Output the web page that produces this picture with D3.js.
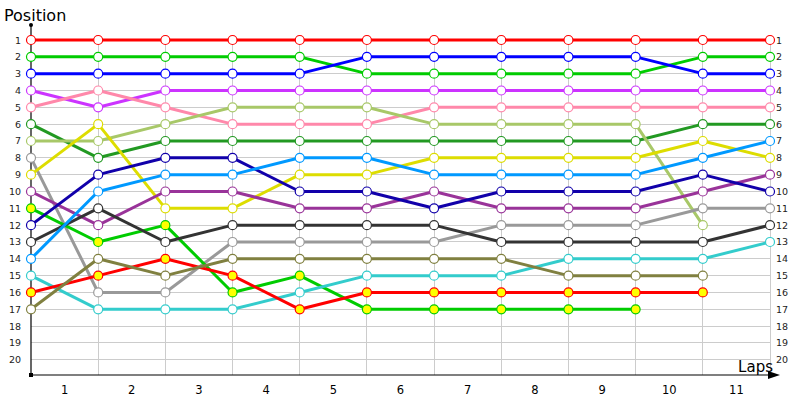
<!DOCTYPE html>
<html>
<head>
<meta charset="utf-8">
<script src="https://cdn.jsdelivr.net/npm/d3@7"></script>
<style>
  body { margin: 0; background: #fff; }
  svg { display: block; font-family: "DejaVu Sans", Verdana, sans-serif; }
</style>
</head>
<body>
<svg id="chart" width="800" height="400"></svg>
<script>
// lap numbers (0 = start) and the position ticks
const laps = [0, 1, 2, 3, 4, 5, 6, 7, 8, 9, 10, 11]
const lapLabels = ["1", "2", "3", "4", "5", "6", "7", "8", "9", "10", "11"]
const positions = d3.range(1, 21)

// one entry per car: line colour, marker fill, position at each lap
const carColors = ["#ff0000", "#00cc00", "#0000ff", "#cc33ff", "#ff88aa", "#229922", "#a8c868", "#999999",
  "#dddd00", "#993399", "#00cc00", "#1100aa", "#333333", "#0099ff", "#33cccc", "#ff0000", "#808040"]
const carFills = ["#fff", "#fff", "#fff", "#fff", "#fff", "#fff", "#fff", "#fff",
  "#fff", "#fff", "#ffff00", "#fff", "#fff", "#fff", "#fff", "#ffff00", "#fff"]
const carPositions = [
  [1, 1, 1, 1, 1, 1, 1, 1, 1, 1, 1, 1],
  [2, 2, 2, 2, 2, 3, 3, 3, 3, 3, 2, 2],
  [3, 3, 3, 3, 3, 2, 2, 2, 2, 2, 3, 3],
  [4, 5, 4, 4, 4, 4, 4, 4, 4, 4, 4, 4],
  [5, 4, 5, 6, 6, 6, 5, 5, 5, 5, 5, 5],
  [6, 8, 7, 7, 7, 7, 7, 7, 7, 7, 6, 6],
  [7, 7, 6, 5, 5, 5, 6, 6, 6, 6, 12],
  [8, 16, 16, 13, 13, 13, 13, 12, 12, 12, 11, 11],
  [9, 6, 11, 11, 9, 9, 8, 8, 8, 8, 7, 8],
  [10, 12, 10, 10, 11, 11, 10, 11, 11, 11, 10, 9],
  [11, 13, 12, 16, 15, 17, 17, 17, 17, 17],
  [12, 9, 8, 8, 10, 10, 11, 10, 10, 10, 9, 10],
  [13, 11, 13, 12, 12, 12, 12, 13, 13, 13, 13, 12],
  [14, 10, 9, 9, 8, 8, 9, 9, 9, 9, 8, 7],
  [15, 17, 17, 17, 16, 15, 15, 15, 14, 14, 14, 13],
  [16, 15, 14, 15, 17, 16, 16, 16, 16, 16, 16],
  [17, 14, 15, 14, 14, 14, 14, 14, 15, 15, 15]
]

const svg = d3.select("#chart")

const x = d3.scaleLinear().domain([0, 11]).range([31, 770])
const y = d3.scaleLinear().domain([1, 20]).range([40, 359.8])

// grid
svg.append("g").selectAll("line")
  .data(positions)
  .join("line")
    .attr("x1", x(0)).attr("x2", x(11))
    .attr("y1", d => y(d)).attr("y2", d => y(d))
    .attr("stroke", "#cccccc").attr("stroke-width", 1)
    .attr("shape-rendering", "crispEdges")

svg.append("g").selectAll("line")
  .data(laps.slice(1))
  .join("line")
    .attr("x1", d => x(d)).attr("x2", d => x(d))
    .attr("y1", 35).attr("y2", 375)
    .attr("stroke", "#cccccc").attr("stroke-width", 1)
    .attr("shape-rendering", "crispEdges")

// axes
svg.append("line")
  .attr("x1", x(0)).attr("x2", x(0)).attr("y1", 25).attr("y2", 375)
  .attr("stroke", "#000").attr("stroke-width", 1.2)
svg.append("circle").attr("cx", x(0)).attr("cy", 25).attr("r", 2).attr("fill", "#000")
svg.append("rect").attr("x", x(0) - 2).attr("y", 373).attr("width", 4).attr("height", 4).attr("fill", "#000")
svg.append("line")
  .attr("x1", x(0)).attr("x2", 772).attr("y1", 375).attr("y2", 375)
  .attr("stroke", "#000").attr("stroke-width", 1.2)
svg.append("path")
  .attr("d", "M768,371L780,375L768,379Z")
  .attr("fill", "#000")

// position labels left and right
svg.append("g").selectAll("text")
  .data(positions)
  .join("text")
    .attr("x", 21).attr("y", d => y(d) + 3.5)
    .attr("text-anchor", "end")
    .attr("font-size", 9.5).attr("fill", "#222")
    .text(d => d)

svg.append("g").selectAll("text")
  .data(positions)
  .join("text")
    .attr("x", 776).attr("y", d => y(d) + 3.5)
    .attr("font-size", 9.5).attr("fill", "#222")
    .text(d => d)

// lap labels, centred between grid lines
svg.append("g").selectAll("text")
  .data(lapLabels)
  .join("text")
    .attr("x", (d, i) => x(i + 0.5)).attr("y", 394)
    .attr("text-anchor", "middle")
    .attr("font-size", 11.5).attr("fill", "#000")
    .text(d => d)

svg.append("text").attr("x", 4).attr("y", 21)
  .attr("font-size", 16).attr("fill", "#000").text("Position")
svg.append("text").attr("x", 773).attr("y", 372)
  .attr("text-anchor", "end")
  .attr("font-size", 15).attr("fill", "#000").text("Laps")

// lines and markers
const line = d3.line().x((d, i) => x(i)).y(d => y(d))

const cars = svg.append("g").selectAll("g")
  .data(carPositions)
  .join("g")

cars.append("path")
  .attr("d", d => line(d))
  .attr("fill", "none")
  .attr("stroke", (d, i) => carColors[i])
  .attr("stroke-width", 3)
  .attr("stroke-linejoin", "round")

cars.each(function(d, i) {
  d3.select(this).selectAll("circle")
    .data(d)
    .join("circle")
      .attr("cx", (p, j) => x(j))
      .attr("cy", p => y(p))
      .attr("r", 4.5)
      .attr("fill", carFills[i])
      .attr("stroke", carColors[i])
      .attr("stroke-width", 1.2)
})
</script>
</body>
</html>
